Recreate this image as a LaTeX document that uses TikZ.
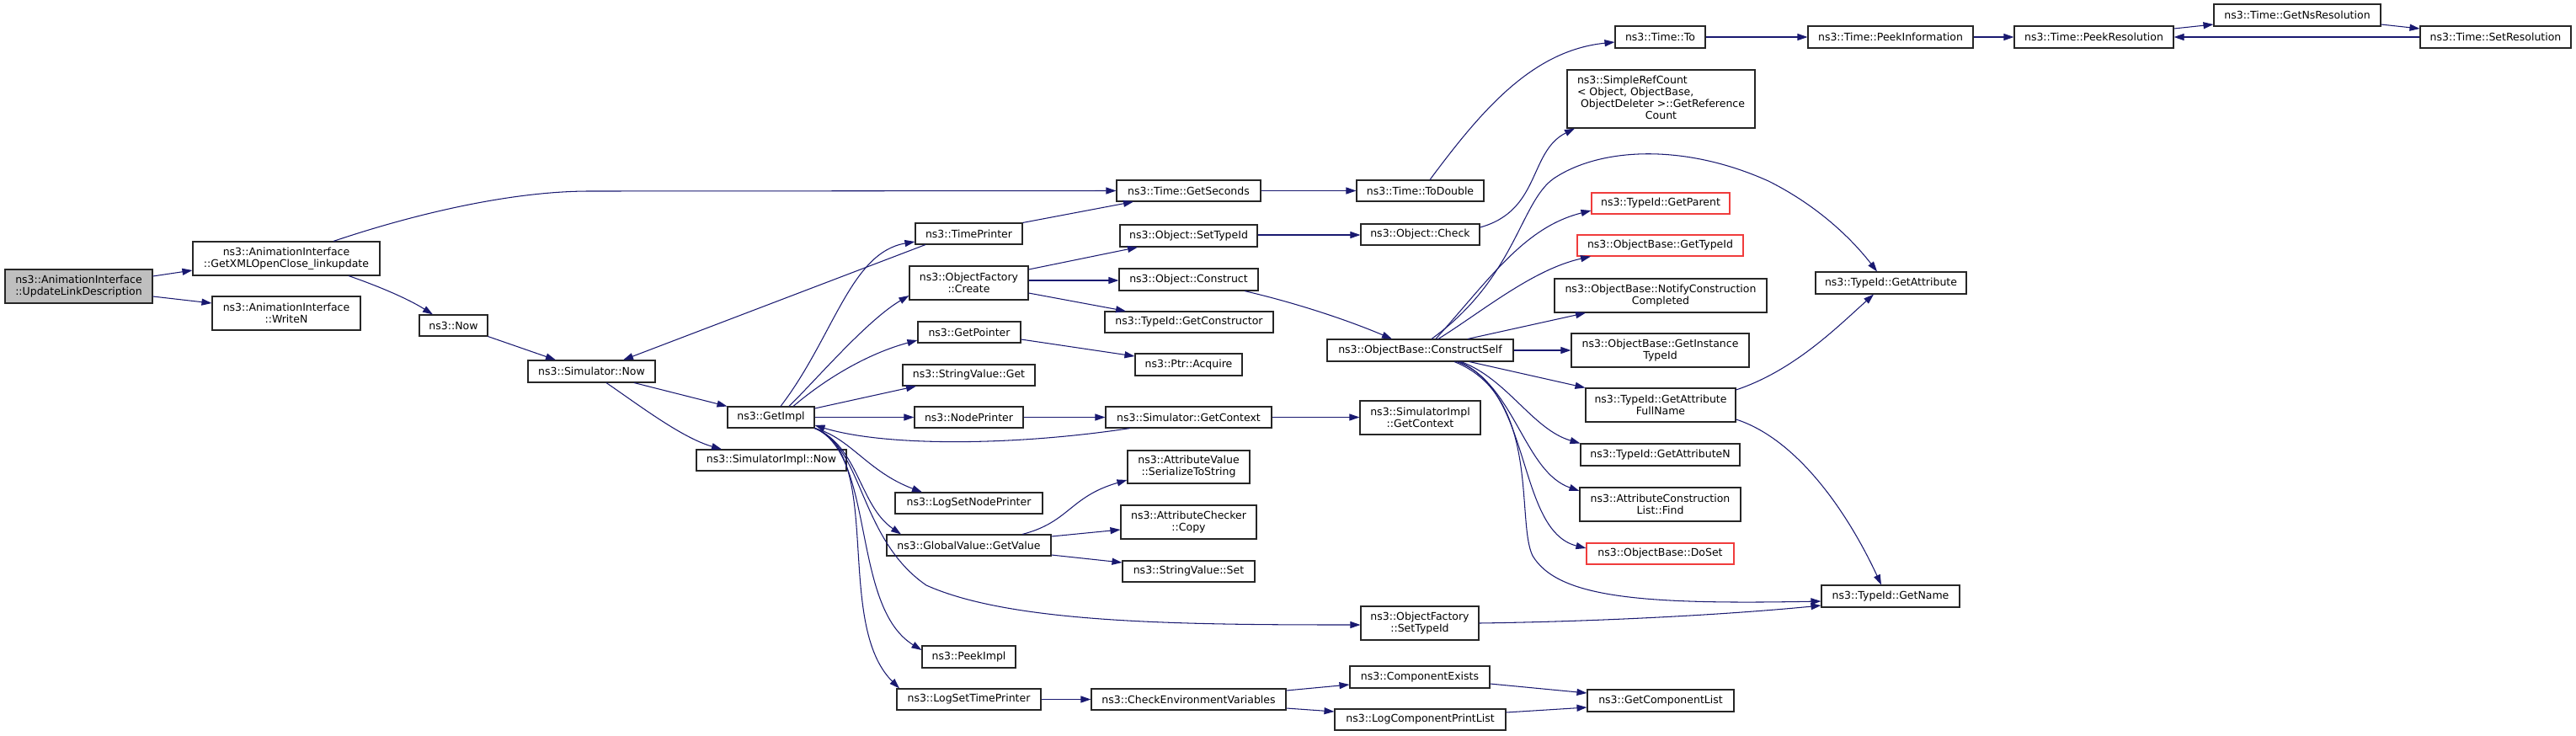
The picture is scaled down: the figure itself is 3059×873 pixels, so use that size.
\documentclass[tikz,border=0pt]{standalone}
\usepackage{fontspec}
\setmainfont{DejaVu Sans}
\usetikzlibrary{arrows.meta}
\definecolor{navy}{HTML}{191970}
\definecolor{nodered}{HTML}{F03C3C}
\tikzset{
  fnbox/.style={draw=black!85, line width=1.1pt, fill=white, inner sep=0pt, align=center,
    font=\fontsize{12.5}{14}\selectfont},
  redbox/.style={draw=nodered},
  rootbox/.style={fill=black!25},
  conn/.style={draw=navy, line width=1.05pt, -{Triangle[length=12pt,width=8pt]}}
}
\newcommand{\mknode}[7][]{\node[fnbox,#1,minimum width={(#5)-(#3)},minimum height={(#6)-(#4)}] (#2) at ({((#3)+(#5))/2},{((#4)+(#6))/2}) {#7};}
\begin{document}
\begin{tikzpicture}[x=1pt,y=-1pt]
\useasboundingbox (0,0) rectangle (3059,873);
% nodes
\mknode[rootbox]{root}{6}{320}{181}{360}{ns3::AnimationInterface\\::UpdateLinkDescription}
\mknode{getxml}{229}{287}{451}{327}{ns3::AnimationInterface\\::GetXMLOpenClose\_linkupdate}
\mknode{writen}{252}{352}{428}{392}{ns3::AnimationInterface\\::WriteN}
\mknode{now}{498}{374}{579}{399}{ns3::Now}
\mknode{simnow}{627}{428}{778}{454}{ns3::Simulator::Now}
\mknode{getimpl}{864}{483}{967}{508}{ns3::GetImpl}
\mknode{simimplnow}{827}{534}{1005}{559}{ns3::SimulatorImpl::Now}
\mknode{getseconds}{1326}{214}{1497}{239}{ns3::Time::GetSeconds}
\mknode{timeprinter}{1087}{265}{1214}{290}{ns3::TimePrinter}
\mknode{objsettypeid}{1330}{267}{1493}{293}{ns3::Object::SetTypeId}
\mknode{create}{1080}{316}{1221}{356}{ns3::ObjectFactory\\::Create}
\mknode{construct}{1329}{319}{1494}{345}{ns3::Object::Construct}
\mknode{getconstructor}{1312}{370}{1512}{395}{ns3::TypeId::GetConstructor}
\mknode{getpointer}{1090}{382}{1212}{407}{ns3::GetPointer}
\mknode{acquire}{1348}{420}{1475}{446}{ns3::Ptr::Acquire}
\mknode{svget}{1072}{433}{1229}{458}{ns3::StringValue::Get}
\mknode{nodeprinter}{1086}{483}{1215}{508}{ns3::NodePrinter}
\mknode{simgetcontext}{1313}{483}{1510}{508}{ns3::Simulator::GetContext}
\mknode{serialize}{1339}{535}{1484}{574}{ns3::AttributeValue\\::SerializeToString}
\mknode{logsetnode}{1063}{585}{1238}{610}{ns3::LogSetNodePrinter}
\mknode{checkercopy}{1331}{600}{1492}{640}{ns3::AttributeChecker\\::Copy}
\mknode{getvalue}{1053}{635}{1248}{660}{ns3::GlobalValue::GetValue}
\mknode{svset}{1333}{666}{1490}{691}{ns3::StringValue::Set}
\mknode{peekimpl}{1095}{767}{1206}{793}{ns3::PeekImpl}
\mknode{logsettime}{1065}{818}{1236}{843}{ns3::LogSetTimePrinter}
\mknode{checkenv}{1296}{818}{1527}{843}{ns3::CheckEnvironmentVariables}
\mknode{timeto}{1918}{31}{2025}{57}{ns3::Time::To}
\mknode{simplerefcount}{1861}{83}{2084}{152}{\begin{tabular}{@{}l@{}}ns3::SimpleRefCount\\< Object, ObjectBase,\\\ ObjectDeleter >::GetReference\\\multicolumn{1}{@{}c@{}}{Count}\end{tabular}}
\mknode{todouble}{1611}{214}{1762}{239}{ns3::Time::ToDouble}
\mknode{objcheck}{1616}{266}{1757}{291}{ns3::Object::Check}
\mknode[redbox]{getparent}{1890}{229}{2054}{254}{ns3::TypeId::GetParent}
\mknode[redbox]{gettypeid}{1873}{279}{2070}{304}{ns3::ObjectBase::GetTypeId}
\mknode{notify}{1846}{331}{2098}{371}{ns3::ObjectBase::NotifyConstruction\\Completed}
\mknode{constructself}{1576}{403}{1797}{429}{ns3::ObjectBase::ConstructSelf}
\mknode{getinstance}{1866}{396}{2077}{436}{ns3::ObjectBase::GetInstance\\TypeId}
\mknode{fullname}{1883}{461}{2061}{501}{ns3::TypeId::GetAttribute\\FullName}
\mknode{simimplgetcontext}{1615}{476}{1758}{516}{ns3::SimulatorImpl\\::GetContext}
\mknode{getattrn}{1877}{527}{2066}{553}{ns3::TypeId::GetAttributeN}
\mknode{find}{1876}{579}{2067}{619}{ns3::AttributeConstruction\\List::Find}
\mknode[redbox]{doset}{1884}{645}{2059}{670}{ns3::ObjectBase::DoSet}
\mknode{factsettypeid}{1616}{720}{1756}{760}{ns3::ObjectFactory\\::SetTypeId}
\mknode{compexists}{1603}{791}{1769}{817}{ns3::ComponentExists}
\mknode{getcomplist}{1885}{819}{2059}{845}{ns3::GetComponentList}
\mknode{logcompprint}{1585}{842}{1788}{867}{ns3::LogComponentPrintList}
\mknode{peekinfo}{2147}{31}{2343}{57}{ns3::Time::PeekInformation}
\mknode{peekres}{2392}{31}{2581}{57}{ns3::Time::PeekResolution}
\mknode{getattribute}{2156}{323}{2335}{349}{ns3::TypeId::GetAttribute}
\mknode{getname}{2163}{695}{2327}{721}{ns3::TypeId::GetName}
\mknode{getns}{2629}{5}{2827}{31}{ns3::Time::GetNsResolution}
\mknode{setres}{2874}{31}{3053}{57}{ns3::Time::SetResolution}
% connectors
\draw[conn] (root.east |- 0,328) -- (getxml.west |- 0,321);
\draw[conn] (root.east |- 0,352) -- (writen.west |- 0,360);
\draw[conn] (getxml.north -| 396,0) .. controls (480,258) and (600,227) .. (700,227) -- (getseconds.west);
\draw[conn] (getxml.south -| 414,0) .. controls (450,340) and (485,355) .. (now.north -| 514,0);
\draw[conn] (now.south east) -- (simnow.north -| 660,0);
\draw[conn] (simnow.south -| 753,0) -- (getimpl.north west);
\draw[conn] (simnow.south -| 720,0) .. controls (760,482) and (810,520) .. (simimplnow.north -| 857,0);
\draw[conn] (timeprinter.south -| 1099,0) -- (simnow.north -| 740,0);
\draw[conn] (timeprinter.north east) -- (getseconds.south -| 1346,0);
\draw[conn] (getimpl.north -| 927,0) .. controls (990,400) and (1010,300) .. (timeprinter.west |- 0,287);
\draw[conn] (getimpl.north -| 937,0) .. controls (970,450) and (1030,380) .. (create.west |- 0,351);
\draw[conn] (getimpl.north -| 942,0) .. controls (980,450) and (1030,420) .. (getpointer.west |- 0,404);
\draw[conn] (getimpl.east |- 0,485) -- (svget.south -| 1088,0);
\draw[conn] (getimpl.east) -- (nodeprinter.west);
\draw[conn] (simgetcontext.south -| 1342,0) .. controls (1200,530) and (1050,530) .. (getimpl.east |- 0,505);
\draw[conn] (getimpl.south east) .. controls (1010,520) and (1030,560) .. (logsetnode.north -| 1095,0);
\draw[conn] (getimpl.south east) .. controls (1020,530) and (1020,600) .. (getvalue.north -| 1070,0);
\draw[conn] (getimpl.south east) .. controls (1025,530) and (1020,640) .. (1100,695) .. controls (1200,740) and (1400,742) .. (factsettypeid.west |- 0,742);
\draw[conn] (getimpl.south east) .. controls (1040,540) and (1010,720) .. (peekimpl.west |- 0,772);
\draw[conn] (getimpl.south east) .. controls (1050,540) and (990,740) .. (logsettime.north -| 1068,0);
\draw[conn] (getseconds.east) -- (todouble.west);
\draw[conn] (todouble.north -| 1698,0) .. controls (1760,130) and (1820,60) .. (timeto.west |- 0,50);
\draw[conn] (timeto.east) -- (peekinfo.west);
\draw[conn] (peekinfo.east) -- (peekres.west);
\draw[conn] (peekres.east |- 0,34) -- (getns.west |- 0,29);
\draw[conn] (getns.east |- 0,29) -- (setres.west |- 0,34);
\draw[conn] (setres.west) -- (peekres.east);
\draw[conn] (objsettypeid.east |- 0,279) -- (objcheck.west |- 0,279);
\draw[conn] (objcheck.east |- 0,270) .. controls (1830,250) and (1815,180) .. (simplerefcount.south -| 1870,0);
\draw[conn] (construct.south -| 1478,0) .. controls (1540,360) and (1600,380) .. (constructself.north -| 1653,0);
\draw[conn] (create.east |- 0,320) -- (objsettypeid.south -| 1351,0);
\draw[conn] (create.east |- 0,333) -- (construct.west |- 0,333);
\draw[conn] (create.east |- 0,348) -- (getconstructor.north -| 1337,0);
\draw[conn] (getpointer.east |- 0,403) -- (acquire.west |- 0,423);
\draw[conn] (nodeprinter.east) -- (simgetcontext.west);
\draw[conn] (simgetcontext.east) -- (simimplgetcontext.west |- simgetcontext.east);
\draw[conn] (getvalue.north -| 1214,0) .. controls (1270,620) and (1270,590) .. (serialize.west |- 0,570);
\draw[conn] (getvalue.east |- 0,637) -- (checkercopy.west |- 0,629);
\draw[conn] (getvalue.east |- 0,659) -- (svset.west |- 0,668);
\draw[conn] (logsettime.east) -- (checkenv.west);
\draw[conn] (checkenv.east |- 0,820) -- (compexists.west |- 0,813);
\draw[conn] (checkenv.east |- 0,841) -- (logcompprint.west |- 0,845);
\draw[conn] (compexists.east |- 0,812) -- (getcomplist.west |- 0,823);
\draw[conn] (logcompprint.east |- 0,846) -- (getcomplist.west |- 0,840);
\draw[conn] (constructself.north -| 1700,0) .. controls (1800,330) and (1805,240) .. (1845,212) .. controls (1900,175) and (2000,170) .. (2100,215) .. controls (2160,245) and (2200,285) .. (getattribute.north -| 2229,0);
\draw[conn] (constructself.north -| 1705,0) .. controls (1770,330) and (1810,270) .. (getparent.west |- 0,250);
\draw[conn] (constructself.north -| 1708,0) .. controls (1760,370) and (1820,320) .. (gettypeid.south -| 1889,0);
\draw[conn] (constructself.north -| 1743,0) -- (notify.south -| 1883,0);
\draw[conn] (constructself.east |- 0,416) -- (getinstance.west |- 0,416);
\draw[conn] (constructself.south -| 1745,0) -- (fullname.north west);
\draw[conn] (constructself.south -| 1735,0) .. controls (1790,450) and (1820,510) .. (getattrn.north west);
\draw[conn] (constructself.south -| 1733,0) .. controls (1800,460) and (1810,560) .. (find.west |- 0,583);
\draw[conn] (constructself.south -| 1730,0) .. controls (1820,460) and (1800,630) .. (doset.west |- 0,651);
\draw[conn] (constructself.south -| 1727,0) .. controls (1830,470) and (1800,620) .. (1820,660) .. controls (1850,710) and (1950,718) .. (getname.west |- 0,714);
\draw[conn] (fullname.east |- 0,463) .. controls (2130,440) and (2180,390) .. (getattribute.south -| 2225,0);
\draw[conn] (fullname.east |- 0,498) .. controls (2130,520) and (2190,600) .. (getname.north -| 2234,0);
\draw[conn] (factsettypeid.east |- 0,740) .. controls (1900,738) and (2050,730) .. (getname.west |- 0,719);
\end{tikzpicture}
\end{document}
